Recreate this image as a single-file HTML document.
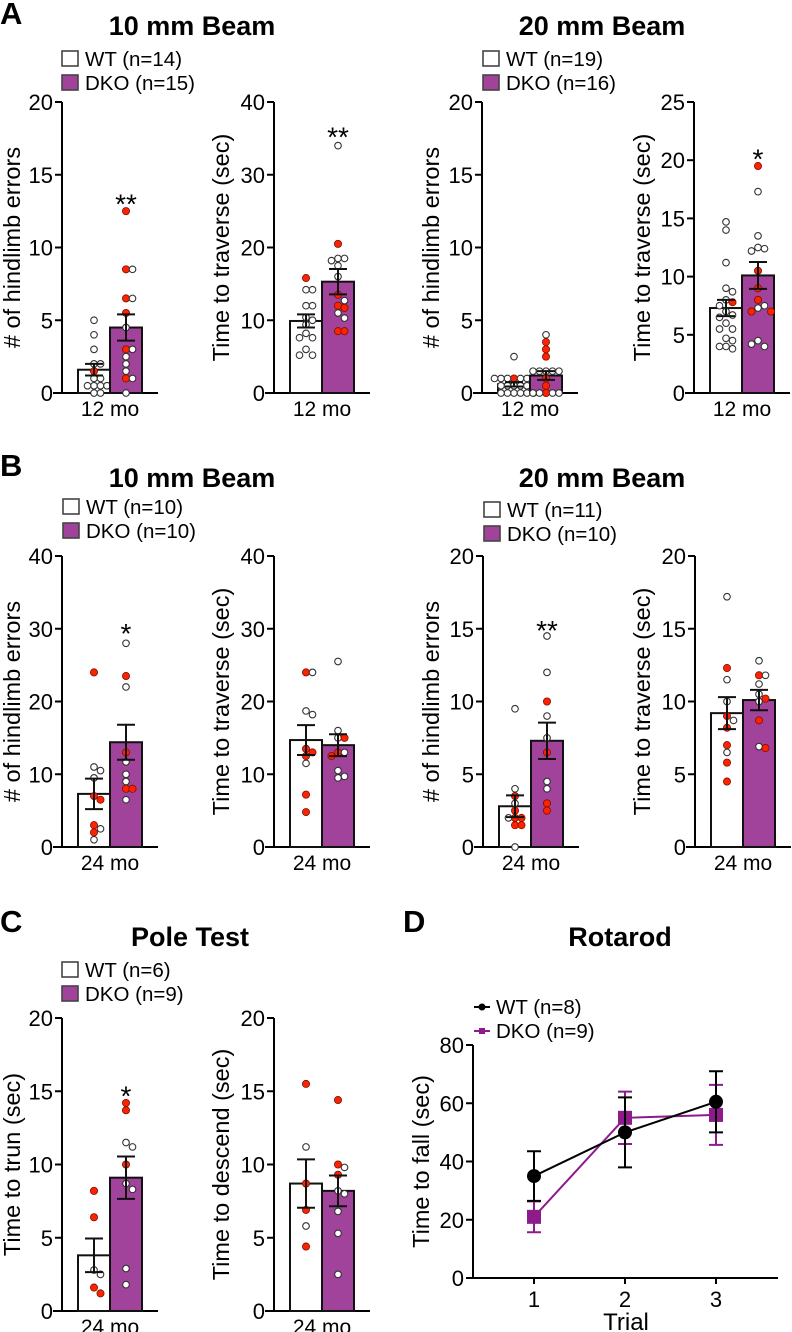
<!DOCTYPE html>
<html><head><meta charset="utf-8"><style>
html,body{margin:0;padding:0;background:#fff}
svg{display:block;font-family:"Liberation Sans",Arial,sans-serif}
</style></head><body>
<svg id="fig" width="792" height="1332" viewBox="0 0 792 1332" xmlns="http://www.w3.org/2000/svg">
<g id="static">
<text x="0" y="24" font-size="31" font-weight="bold">A</text>
<text x="0" y="476" font-size="31" font-weight="bold">B</text>
<text x="0" y="932" font-size="31" font-weight="bold">C</text>
<text x="403" y="932" font-size="31" font-weight="bold">D</text>
<text x="192" y="35" font-size="27" font-weight="bold" text-anchor="middle">10 mm Beam</text>
<text x="602" y="35" font-size="27" font-weight="bold" text-anchor="middle">20 mm Beam</text>
<text x="192" y="487" font-size="27" font-weight="bold" text-anchor="middle">10 mm Beam</text>
<text x="602" y="487" font-size="27" font-weight="bold" text-anchor="middle">20 mm Beam</text>
<text x="190" y="946" font-size="27" font-weight="bold" text-anchor="middle">Pole Test</text>
<text x="620" y="946" font-size="27" font-weight="bold" text-anchor="middle">Rotarod</text>
</g>
</svg>
<script>
const NS='http://www.w3.org/2000/svg';
const svg=document.getElementById('fig');
function mk(tag,attrs,parent,txt){const e=document.createElementNS(NS,tag);for(const k in attrs)e.setAttribute(k,attrs[k]);if(txt!==undefined)e.textContent=txt;(parent||svg).appendChild(e);return e;}

// ---- data ----
const a1WT=[5,4,3,2,2,1.5,1,1,0.5,0.5,0.5,0.5,0,0];
const a1WTred=[0,0,0,0,0,1,0,0,0,0,0,0,0,0];
const a1KO=[12.5,8.5,8.5,6.5,6.5,5.5,4.5,3,3,2.5,2,1.5,1,1,0];
const a1KOred=[1,1,0,1,0,1,0,1,0,0,0,0,1,0,0];
const a1Mean=[1.6,4.5]; const a1Sem=[0.4,0.9];

const a2WT=[15.8,14.2,14.2,12,12,10.4,10,9.4,8.2,7.6,7.6,6,5.2,5.2];
const a2WTred=[1,0,0,0,0,0,0,0,0,0,0,0,0,0];
const a2KO=[34,20.5,18.5,18.5,18.2,17.5,16,13.5,12.7,12,11.7,11,10.3,8.5,8.5];
const a2KOred=[0,1,0,0,0,0,0,1,0,1,1,0,0,1,1];
const a2Mean=[9.9,15.3]; const a2Sem=[0.9,1.75];

const a3WT=[2.5,1,1,1,1,1,1,1,0.5,0.5,0.5,0.5,0.5,0,0,0,0,0,0];
const a3WTred=[0,1,0,0,0,0,0,0,0,0,0,0,0,0,0,0,0,0,0];
const a3KO=[4,3.5,3,2.5,1.5,1.5,1.5,1.5,1.5,1,0.5,0,0,0,0,0];
const a3KOred=[0,1,1,1,0,0,0,0,0,1,1,1,0,0,0,0];
const a3Mean=[0.6,1.2]; const a3Sem=[0.15,0.3];

const a4WT=[14.7,14,11.2,9,8.7,8,7.8,7.5,7,6.7,6.5,6,5.5,5.5,4.7,4.5,4,4,3.8];
const a4WTred=[0,0,0,0,0,0,1,0,0,0,0,0,0,0,0,0,0,0,0];
const a4KO=[19.5,17.3,13.5,12.5,12.4,12.2,10.5,9,8,7.5,7.3,7,7,4.5,4,4.2];
const a4KOred=[1,0,0,0,0,0,1,1,1,0,0,1,1,0,0,0];
const a4Mean=[7.3,10.1]; const a4Sem=[0.7,1.15];

const b1WT=[24,11,10.5,9.5,7,6.5,3,2.5,2,1];
const b1WTred=[1,0,0,0,1,1,1,0,1,0];
const b1KO=[28,23.5,22,13,11.7,10,9,8,8,6.5];
const b1KOred=[0,1,0,1,0,0,0,1,1,0];
const b1Mean=[7.3,14.4]; const b1Sem=[2.1,2.4];

const b2WT=[24,24,18.7,18.2,13.5,13,12.5,11.5,7.2,4.8];
const b2WTred=[1,0,0,0,1,1,1,0,1,1];
const b2KO=[25.5,16,15,15,13,13,12.5,10.5,9.7,9.5];
const b2KOred=[0,0,0,1,1,0,1,0,0,0];
const b2Mean=[14.7,14.0]; const b2Sem=[2.05,1.5];

const b3WT=[9.5,4,3.5,3,2.5,2,2,2,1.5,1.5,0];
const b3WTred=[0,0,1,0,1,1,1,0,1,1,0];
const b3KO=[14.5,12,10,9,7.5,6.5,4.5,4,3,2.5];
const b3KOred=[0,0,1,0,0,1,0,0,1,1];
const b3Mean=[2.8,7.3]; const b3Sem=[0.75,1.25];

const b4WT=[17.2,12.3,11.5,10,9,8.7,8.2,7,6.5,5.8,4.5];
const b4WTred=[0,1,0,0,1,0,1,1,0,1,1];
const b4KO=[12.8,11.8,11.8,11.2,10.5,10.2,10,8.7,6.9,6.8];
const b4KOred=[0,1,0,0,0,1,0,1,0,1];
const b4Mean=[9.2,10.1]; const b4Sem=[1.1,0.7];

const c1WT=[8.2,6.4,2.8,2.5,1.6,1.2];
const c1WTred=[1,1,0,0,1,1];
const c1KO=[14.2,13.7,11.5,11.2,10,8.7,8.3,2.9,1.8];
const c1KOred=[1,1,0,0,1,0,0,0,0];
const c1Mean=[3.8,9.1]; const c1Sem=[1.15,1.45];

const c2WT=[15.5,11.2,8.7,6.9,5.8,4.4];
const c2WTred=[1,0,1,1,0,1];
const c2KO=[14.4,10,9.8,9.3,8.2,8,6.8,5.3,2.5];
const c2KOred=[1,1,0,1,0,0,0,0,0];
const c2Mean=[8.7,8.2]; const c2Sem=[1.65,1.05];

const rotTrials=['1','2','3'];
const rotWTMean=[35,50,60.5];
const rotWTSem=[8.5,12,10.5];
const rotKOMean=[21,55,56];
const rotKOSem=[5.3,9,10.3];

const PURPLE='#a1429b';
const RED='#ff2200';

function barChart(o){
  const g=mk('g',{});
  
  
  const ax=o.ax, y0=o.y0, yt=o.yt, ymax=o.ymax;
  const Y=v=>y0-(v/ymax)*(y0-yt);
  const yl=mk('line',{x1:ax,y1:yt,x2:ax,y2:y0,stroke:'#000','stroke-width':2},g);
  
  
  const xl=mk('line',{x1:ax-9,y1:y0,x2:ax+96,y2:y0,stroke:'#000','stroke-width':2},g);
  
  
  for(let v=0;v<=ymax+1e-9;v+=o.step){
    const y=Y(v);
    const tk=mk('line',{x1:ax-7,y1:y,x2:ax,y2:y,stroke:'#000','stroke-width':2},g);
    
    
    const tl=mk('text',{x:ax-9,y:y+8,'font-size':22,'text-anchor':'end'},g,String(v));
    
    
  }
  const yt2=mk('text',{x:0,y:0,'font-size':23.5,'text-anchor':'middle',transform:`translate(${o.tx},${(yt+y0)/2}) rotate(-90)`},g,o.ytitle);
  
  
  const xlbl=mk('text',{x:ax+48,y:y0+23,'font-size':21,'text-anchor':'middle'},g,o.xlabel);
  
  
  const groups=[{vals:o.wt,red:o.wtr,x:ax+16,fill:'#fff',nm:'wt'},{vals:o.ko,red:o.kor,x:ax+48,fill:PURPLE,nm:'dko'}];
  groups.forEach((gr,i)=>{
    const m=o.mean[i], s=o.sem[i];
    const r=mk('rect',{x:gr.x,y:Y(m),width:32,height:y0-Y(m),fill:gr.fill,stroke:'#111','stroke-width':2},g);
    
    
    const cx=gr.x+16;
    const placed=[];
    gr.vals.forEach((val,k)=>{
      const y=Y(val);
      const offs=[0,6.5,-6.5,13,-13,19.5,-19.5,26,-26];
      let px=cx;
      for(const d of offs){const x=cx+d;if(placed.every(p=>Math.hypot(p[0]-x,p[1]-y)>=6.2)){px=x;break;}}
      placed.push([px,y]);
      const c=mk('circle',{cx:px,cy:y,r:gr.red[k]?3.6:3.3,fill:gr.red[k]?RED:'#fff',stroke:gr.red[k]?'#7a1000':'#333','stroke-width':gr.red[k]?0.8:1.1},g);
      
      
    });
    const eb=mk('path',{d:`M${cx},${Y(m-s)}V${Y(m+s)}M${cx-9},${Y(m+s)}H${cx+9}M${cx-9},${Y(m-s)}H${cx+9}`,stroke:'#111','stroke-width':2,fill:'none'},g);
    
    
  });
  if(o.star){
    const st=mk('text',{x:ax+64,y:Y(o.starAt)+14,'font-size':28,'text-anchor':'middle'},g,o.star);
    
    
  }
}
function legend(x,y,wt,ko){
  const g=mk('g',{});
  
  
  const b1=mk('rect',{x:x,y:y,width:16,height:15,fill:'#fff',stroke:'#444','stroke-width':1.6},g);
  
  
  const t1=mk('text',{x:x+23,y:y+15,'font-size':20.5},g,wt);
  
  
  const b2=mk('rect',{x:x,y:y+24,width:16,height:15,fill:PURPLE,stroke:'#444','stroke-width':1.6},g);
  
  
  const t2=mk('text',{x:x+23,y:y+39,'font-size':20.5},g,ko);
  
  
}
const HE='# of hindlimb errors', TT='Time to traverse (sec)';
barChart({name:'chart-a-10mm-errors',ax:62,y0:393,yt:102,ymax:20,step:5,ytitle:HE,tx:20,xlabel:'12 mo',wt:a1WT,wtr:a1WTred,ko:a1KO,kor:a1KOred,mean:a1Mean,sem:a1Sem,star:'**',starAt:13.3});
barChart({name:'chart-a-10mm-time',ax:274,y0:393,yt:102,ymax:40,step:10,ytitle:TT,tx:229,xlabel:'12 mo',wt:a2WT,wtr:a2WTred,ko:a2KO,kor:a2KOred,mean:a2Mean,sem:a2Sem,star:'**',starAt:35.8});
barChart({name:'chart-a-20mm-errors',ax:482,y0:393,yt:102,ymax:20,step:5,ytitle:HE,tx:439,xlabel:'12 mo',wt:a3WT,wtr:a3WTred,ko:a3KO,kor:a3KOred,mean:a3Mean,sem:a3Sem});
barChart({name:'chart-a-20mm-time',ax:694,y0:393,yt:102,ymax:25,step:5,ytitle:TT,tx:650,xlabel:'12 mo',wt:a4WT,wtr:a4WTred,ko:a4KO,kor:a4KOred,mean:a4Mean,sem:a4Sem,star:'*',starAt:20.5});
legend(62,51,'WT (n=14)','DKO (n=15)');
legend(483,51,'WT (n=19)','DKO (n=16)');
barChart({name:'chart-b-10mm-errors',ax:62,y0:847,yt:556,ymax:40,step:10,ytitle:HE,tx:20,xlabel:'24 mo',wt:b1WT,wtr:b1WTred,ko:b1KO,kor:b1KOred,mean:b1Mean,sem:b1Sem,star:'*',starAt:30});
barChart({name:'chart-b-10mm-time',ax:274,y0:847,yt:556,ymax:40,step:10,ytitle:TT,tx:229,xlabel:'24 mo',wt:b2WT,wtr:b2WTred,ko:b2KO,kor:b2KOred,mean:b2Mean,sem:b2Sem});
barChart({name:'chart-b-20mm-errors',ax:483,y0:847,yt:556,ymax:20,step:5,ytitle:HE,tx:439,xlabel:'24 mo',wt:b3WT,wtr:b3WTred,ko:b3KO,kor:b3KOred,mean:b3Mean,sem:b3Sem,star:'**',starAt:15.2});
barChart({name:'chart-b-20mm-time',ax:695,y0:847,yt:556,ymax:20,step:5,ytitle:TT,tx:650,xlabel:'24 mo',wt:b4WT,wtr:b4WTred,ko:b4KO,kor:b4KOred,mean:b4Mean,sem:b4Sem});
legend(63,499,'WT (n=10)','DKO (n=10)');
legend(484,502,'WT (n=11)','DKO (n=10)');
barChart({name:'chart-c-time-to-turn',ax:62,y0:1311,yt:1018,ymax:20,step:5,ytitle:'Time to trun (sec)',tx:20,xlabel:'24 mo',wt:c1WT,wtr:c1WTred,ko:c1KO,kor:c1KOred,mean:c1Mean,sem:c1Sem,star:'*',starAt:15});
barChart({name:'chart-c-time-to-descend',ax:274,y0:1311,yt:1018,ymax:20,step:5,ytitle:'Time to descend (sec)',tx:229,xlabel:'24 mo',wt:c2WT,wtr:c2WTred,ko:c2KO,kor:c2KOred,mean:c2Mean,sem:c2Sem});
legend(62,962,'WT (n=6)','DKO (n=9)');

(function(){
  const g=mk('g',{});
  
  
  const ax=473,y0=1278,yt=1045,ymax=80;
  const Y=v=>y0-(v/ymax)*(y0-yt);
  const X=i=>534+i*91;
  const yl=mk('line',{x1:ax,y1:yt,x2:ax,y2:y0,stroke:'#000','stroke-width':2},g);
  
  
  const xl=mk('line',{x1:ax-7,y1:y0,x2:778,y2:y0,stroke:'#000','stroke-width':2},g);
  
  
  for(let v=0;v<=ymax;v+=20){
    const tk=mk('line',{x1:ax-7,y1:Y(v),x2:ax,y2:Y(v),stroke:'#000','stroke-width':2},g);
    
    
    const tl=mk('text',{x:ax-9,y:Y(v)+8,'font-size':22,'text-anchor':'end'},g,String(v));
    
    
  }
  rotTrials.forEach((t,i)=>{
    const tk=mk('line',{x1:X(i),y1:y0,x2:X(i),y2:y0+6,stroke:'#000','stroke-width':2},g);
    
    
    const tl=mk('text',{x:X(i),y:y0+29,'font-size':22,'text-anchor':'middle'},g,t);
    
    
  });
  const xt=mk('text',{x:626,y:1330,'font-size':24,'text-anchor':'middle'},g,'Trial');
  
  
  const ytt=mk('text',{x:0,y:0,'font-size':23.5,'text-anchor':'middle',transform:`translate(429,${(yt+y0)/2}) rotate(-90)`},g,'Time to fall (sec)');
  
  
  const series=[{m:rotKOMean,s:rotKOSem,c:'#8e1a8c',nm:'dko',sq:true},{m:rotWTMean,s:rotWTSem,c:'#000',nm:'wt',sq:false}];
  series.forEach(sr=>{
    const eb=mk('path',{d:sr.m.map((m,i)=>`M${X(i)},${Y(m-sr.s[i])}V${Y(m+sr.s[i])}M${X(i)-7},${Y(m+sr.s[i])}H${X(i)+7}M${X(i)-7},${Y(m-sr.s[i])}H${X(i)+7}`).join(''),stroke:sr.c,'stroke-width':2,fill:'none'},g);
    
    
    const ln=mk('polyline',{points:sr.m.map((m,i)=>X(i)+','+Y(m)).join(' '),stroke:sr.c,'stroke-width':2,fill:'none'},g);
    
    
    sr.m.forEach((m,i)=>{
      const p=sr.sq?mk('rect',{x:X(i)-7,y:Y(m)-7,width:14,height:14,fill:sr.c},g):mk('circle',{cx:X(i),cy:Y(m),r:7,fill:sr.c},g);
      
      
    });
  });
  const lw=mk('path',{d:'M474,1007H490',stroke:'#000','stroke-width':2},g);
  
  
  const lwd=mk('circle',{cx:482,cy:1007,r:3.5,fill:'#000'},g);
  
  
  const lwt=mk('text',{x:496,y:1014,'font-size':20.5},g,'WT (n=8)');
  
  
  const lk=mk('path',{d:'M474,1031H490',stroke:'#8e1a8c','stroke-width':2},g);
  
  
  const lkd=mk('rect',{x:479,y:1028,width:6,height:6,fill:'#8e1a8c'},g);
  
  
  const lkt=mk('text',{x:496,y:1038,'font-size':20.5},g,'DKO (n=9)');
  
  
})();
</script>
</body></html>
